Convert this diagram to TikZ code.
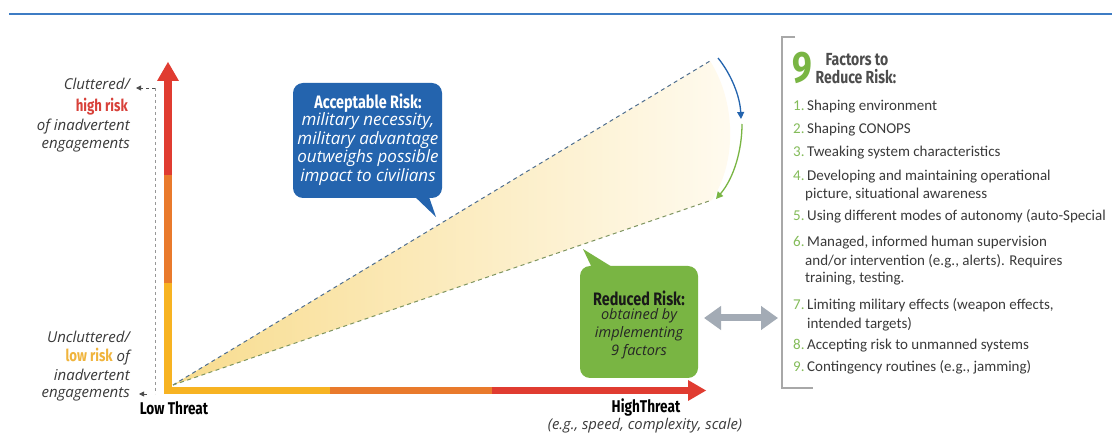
\documentclass[tikz,border=0pt]{standalone}
\usepackage{fontspec}
\setmainfont{Carlito}
\newfontfamily\condf[FakeStretch=0.8]{Fira Sans}
\newfontfamily\itf{Open Sans}
\usetikzlibrary{arrows.meta}
\definecolor{axred}{HTML}{E03C31}
\definecolor{axorange}{HTML}{E97A2C}
\definecolor{axyellow}{HTML}{F7B322}
\definecolor{lowtxt}{HTML}{F0B43C}
\definecolor{hightxt}{HTML}{D8413A}
\definecolor{bblue}{HTML}{2464AE}
\definecolor{bgreen}{HTML}{79B543}
\definecolor{fanL}{HTML}{F8DC8E}
\definecolor{fanR}{HTML}{FFFBF0}
\definecolor{dashup}{HTML}{4F6E8E}
\definecolor{dashlo}{HTML}{7F9560}
\definecolor{topblue}{HTML}{3D7CC4}
\definecolor{txtgray}{HTML}{3A3A3A}
\definecolor{numgreen}{HTML}{84BC5A}
\definecolor{brgray}{HTML}{A8A8A8}
\definecolor{dblgray}{HTML}{A3ABB5}
\definecolor{headgray}{HTML}{4D4D4D}
\tikzset{
  lefttxt/.style={anchor=base east, inner sep=0pt, text=txtgray, font=\itf\itshape\fontsize{15}{18}\selectfont},
  condbold/.style={inner sep=0pt, font=\condf\bfseries\fontsize{17}{18}\selectfont},
  bubbleit/.style={inner sep=0pt, align=center, font=\itf\itshape\fontsize{17}{18.5}\selectfont},
  listnum/.style={anchor=base west, inner sep=0pt, text=numgreen, font=\fontsize{15}{18.5}\selectfont},
  listtxt/.style={anchor=base west, inner sep=0pt, align=left, text=txtgray, font=\fontsize{15}{18.5}\selectfont},
}
\begin{document}
\begin{tikzpicture}[x=1pt,y=-1pt]
\path[use as bounding box] (0,0) rectangle (1112,446);
\clip (0,0) rectangle (1112,446);
\fill[white] (0,0) rectangle (1112,446);
% top rule
\coordinate (tl) at (9,14);
\coordinate (tr) at (1112,14);
\draw[topblue, line width=2pt] (tl) -- (tr);

% fan
\coordinate (O) at (173,385);
\coordinate (U) at (710,61);
\coordinate (L) at (712,200);
\shade[left color=fanL, right color=fanR] (O) -- (U) .. controls (735,100) and (738,160) .. (L) -- cycle;
\draw[dashup, line width=1pt, dash pattern=on 4pt off 3.5pt] (O) -- (U);
\draw[dashlo, line width=1pt, dash pattern=on 4pt off 3.5pt] (O) -- (L);

% curved arrows
\coordinate (ba1) at (718,58);
\coordinate (ba2) at (741,119);
\coordinate (ga1) at (742,124);
\coordinate (ga2) at (716,199);
\draw[bblue, line width=1.3pt, -{Triangle[width=7pt,length=7pt]}] (ba1) .. controls (731,74) and (740,96) .. (ba2);
\draw[bgreen, line width=1.3pt, -{Triangle[width=7pt,length=7pt]}] (ga1) .. controls (742,150) and (734,178) .. (ga2);

% axes
\fill[axyellow] (164,283) rectangle (172,394);
\fill[axorange] (164,175) rectangle (172,283);
\fill[axred] (164,80) rectangle (172,175);
\fill[axred] (157,81) -- (168,62) -- (179,81) -- cycle;
\fill[axyellow] (164,387) rectangle (330,394);
\fill[axorange] (330,387) rectangle (492,394);
\fill[axred] (492,387) rectangle (690,394);
\fill[axred] (688,380) -- (706,390.5) -- (688,401) -- cycle;

% gray dashed indicator
\coordinate (d1) at (155,88);
\coordinate (d2) at (155,394);
\coordinate (d1e) at (136,88);
\coordinate (d2e) at (139,394);
\draw[brgray!90!black, line width=0.8pt, dash pattern=on 3pt off 3pt] (d1) -- (d2);
\draw[headgray, line width=0.8pt, dash pattern=on 3pt off 3pt, -{Triangle[width=5pt,length=5pt]}] (d1) -- (d1e);
\draw[headgray, line width=0.8pt, -{Triangle[width=5pt,length=5pt]}] (d2) ++(-8,0) -- (d2e);

% left labels
\node[lefttxt] (c1) at (130,90) {Cluttered/};
\node[lefttxt, text=hightxt, font=\condf\bfseries\fontsize{16.5}{18}\selectfont] (c2) at (128,112) {high risk};
\node[lefttxt] (c3) at (130,131) {of inadvertent};
\node[lefttxt] (c4) at (130,149) {engagements};
\node[lefttxt] (u1) at (130,343) {Uncluttered/};
\node[lefttxt] (u2) at (130,362) {{\condf\upshape\bfseries\fontsize{16.5}{18}\selectfont\textcolor{lowtxt}{low risk}} of};
\node[lefttxt] (u3) at (130,381) {inadvertent};
\node[lefttxt] (u4) at (130,398) {engagements};

% axis labels
\node[condbold, text=black, anchor=base] (lowt) at (174,414) {Low Threat};
\node[condbold, text=black, anchor=base] (hight) at (646,413) {HighThreat};
\node[inner sep=0pt, anchor=base, text=txtgray, font=\itf\itshape\fontsize{14.8}{18}\selectfont] (hsub) at (645,430) {(e.g., speed, complexity, scale)};

% blue bubble
\node[fill=bblue, rounded corners=10pt, minimum width=149pt, minimum height=115pt, inner sep=0pt] (bb) at (367.5,140.5) {};
\fill[bblue] (412,194) -- (436,217) -- (428,194) -- cycle;
\node[condbold, text=white, font=\condf\bfseries\fontsize{18}{18}\selectfont] (bbt) at (368,103) {Acceptable Risk:};
\node[bubbleit, text=white] (bbi) at (368,149) {military necessity,\\military advantage\\outweighs possible\\impact to civilians};

% green bubble
\node[fill=bgreen, rounded corners=10pt, minimum width=118pt, minimum height=112pt, inner sep=0pt] (gb) at (639,322) {};
\fill[bgreen] (593,270) -- (583,249) -- (617,270) -- cycle;
\node[condbold, text=black!90, font=\condf\bfseries\fontsize{18}{18}\selectfont] (gbt) at (639,298) {Reduced Risk:};
\node[bubbleit, text=black!85, font=\itf\itshape\fontsize{14.5}{18}\selectfont] (gbi) at (639,334) {obtained by\\implementing\\9 factors};

% double arrow
\coordinate (da1) at (704,318);
\coordinate (da2) at (778,318);
\draw[dblgray, line width=7pt, {Triangle[width=23pt,length=17pt]}-{Triangle[width=23pt,length=17pt]}] (da1) -- (da2);

% bracket
\coordinate (br1) at (795,37);
\coordinate (br2) at (782,37);
\coordinate (br3) at (782,388);
\coordinate (br4) at (813,388);
\draw[brgray, line width=1.5pt] (br1) -- (br2) -- (br3) -- (br4);

% heading
\node[inner sep=0pt, text=bgreen, font=\condf\bfseries\fontsize{44}{44}\selectfont] (nine) at (802.5,68) {9};
\node[inner sep=0pt, text=headgray, font=\condf\bfseries\fontsize{17.5}{18}\selectfont] (h1) at (857,60) {Factors to};
\node[inner sep=0pt, text=headgray, font=\condf\bfseries\fontsize{17.5}{18}\selectfont] (h2) at (856,77) {Reduce Risk:};

% list
\node[listnum] (n1) at (793,111) {1.};
\node[listtxt] (t1) at (807,111) {Shaping environment};
\node[listnum] (n2) at (793,134) {2.};
\node[listtxt] (t2) at (807,134) {Shaping CONOPS};
\node[listnum] (n3) at (793,157) {3.};
\node[listtxt] (t3) at (807,157) {Tweaking system characteristics};
\node[listnum] (n4) at (793,181) {4.};
\node[listtxt] (t4) at (807,181) {Developing and maintaining operational};
\node[listtxt] (t4b) at (805,199) {picture, situational awareness};
\node[listnum] (n5) at (793,221) {5.};
\node[listtxt] (t5) at (807,221) {Using different modes of autonomy (auto-Special};
\node[listnum] (n6) at (793,247) {6.};
\node[listtxt] (t6) at (807,247) {Managed, informed human supervision};
\node[listtxt] (t6b) at (805,266) {and/or intervention (e.g., alerts). Requires};
\node[listtxt] (t6c) at (805,283) {training, testing.};
\node[listnum] (n7) at (793,310) {7.};
\node[listtxt] (t7) at (807,310) {Limiting military effects (weapon effects,};
\node[listtxt] (t7b) at (807,329) {intended targets)};
\node[listnum] (n8) at (793,350) {8.};
\node[listtxt] (t8) at (807,350) {Accepting risk to unmanned systems};
\node[listnum] (n9) at (793,372) {9.};
\node[listtxt] (t9) at (807,372) {Contingency routines (e.g., jamming)};
\end{tikzpicture}
\end{document}
